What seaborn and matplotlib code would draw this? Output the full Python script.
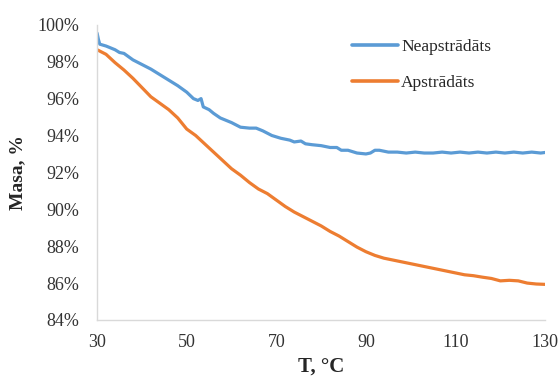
import pandas as pd
import seaborn as sns
import matplotlib.pyplot as plt
from matplotlib.ticker import FuncFormatter

# untreated sample (T in deg C, mass in %)
t_neap = [30.0, 30.3, 30.6, 32, 34, 35, 36, 38, 40, 42, 44, 46, 48, 50, 51.5, 52.5, 53.2, 53.7,
          55, 56, 57.5, 60, 62, 64, 65.5, 67, 69, 71, 73, 74, 75.5, 76.5, 78, 80, 81, 82, 83.5,
          84.5, 86, 88, 90, 91, 92, 93, 95, 97, 99, 101, 103, 105, 107, 109, 111, 113, 115,
          117, 119, 121, 123, 125, 127, 129, 130]
m_neap = [99.55, 99.2, 98.95, 98.85, 98.65, 98.5, 98.45, 98.1, 97.85, 97.6, 97.3, 97.0, 96.7,
          96.35, 96.0, 95.9, 96.0, 95.55, 95.4, 95.2, 94.95, 94.7, 94.45, 94.4, 94.4, 94.25,
          94.0, 93.85, 93.75, 93.65, 93.7, 93.55, 93.5, 93.45, 93.4, 93.35, 93.35, 93.2, 93.2,
          93.05, 93.0, 93.05, 93.2, 93.2, 93.1, 93.1, 93.05, 93.1, 93.05, 93.05, 93.1, 93.05,
          93.1, 93.05, 93.1, 93.05, 93.1, 93.05, 93.1, 93.05, 93.1, 93.05, 93.08]

# treated sample
t_apst = [30, 32, 34, 36, 38, 40, 42, 44, 46, 48, 50, 52, 54, 56, 58, 60, 62, 64, 66, 68, 70,
          72, 74, 76, 78, 80, 82, 84, 86, 88, 90, 92, 94, 96, 98, 100, 102, 104, 106, 108, 110,
          112, 114, 116, 118, 120, 122, 124, 126, 128, 130]
m_apst = [98.65, 98.4, 97.95, 97.55, 97.1, 96.6, 96.1, 95.75, 95.4, 94.95, 94.35, 94.0, 93.55,
          93.1, 92.65, 92.2, 91.85, 91.45, 91.1, 90.85, 90.5, 90.15, 89.85, 89.6, 89.35, 89.1,
          88.8, 88.55, 88.25, 87.95, 87.7, 87.5, 87.35, 87.25, 87.15, 87.05, 86.95, 86.85,
          86.75, 86.65, 86.55, 86.45, 86.4, 86.32, 86.25, 86.12, 86.15, 86.12, 86.0, 85.95,
          85.93]

labels = ["Neapstrādāts", "Apstrādāts"]

df = pd.concat([
    pd.DataFrame({"T": t_neap, "m": m_neap, "sample": labels[0]}),
    pd.DataFrame({"T": t_apst, "m": m_apst, "sample": labels[1]}),
])

sns.set_style("white")
plt.rcParams["font.family"] = ["Liberation Serif", "DejaVu Serif"]

fig = plt.figure(figsize=(5.58, 3.76), dpi=100)
ax = fig.add_axes([0.174, 0.149, 0.803, 0.785])
sns.lineplot(data=df, x="T", y="m", hue="sample", hue_order=labels,
             palette=["#5B9BD5", "#ED7D31"], linewidth=2.3, ax=ax, sort=False)

ax.set_xlim(30, 130)
ax.set_ylim(84, 100)
ax.set_xticks(range(30, 131, 20))
ax.set_yticks(range(84, 101, 2))
ax.yaxis.set_major_formatter(FuncFormatter(lambda v, p: f"{v:.0f}%"))
ax.tick_params(axis="both", direction="inout", length=8, width=1, color="#d9d9d9",
               labelsize=13, labelcolor="#333333")
ax.tick_params(axis="y", pad=9)
ax.tick_params(axis="x", pad=6)

for s in ["top", "right"]:
    ax.spines[s].set_visible(False)
for s in ["left", "bottom"]:
    ax.spines[s].set_color("#d9d9d9")
    ax.spines[s].set_linewidth(1)

ax.set_xlabel("T, °C", fontsize=15, fontweight="bold", labelpad=4)
ax.set_ylabel("Masa, %", fontsize=14, fontweight="bold", labelpad=8)

leg = ax.legend(title=None, frameon=False, loc="upper left", bbox_to_anchor=(0.535, 1.005),
                fontsize=12.5, handlelength=2.6, handletextpad=0.2, labelspacing=1.15)
for h in leg.get_lines():
    h.set_linewidth(2.6)

fig.savefig("out.png", dpi=100)
